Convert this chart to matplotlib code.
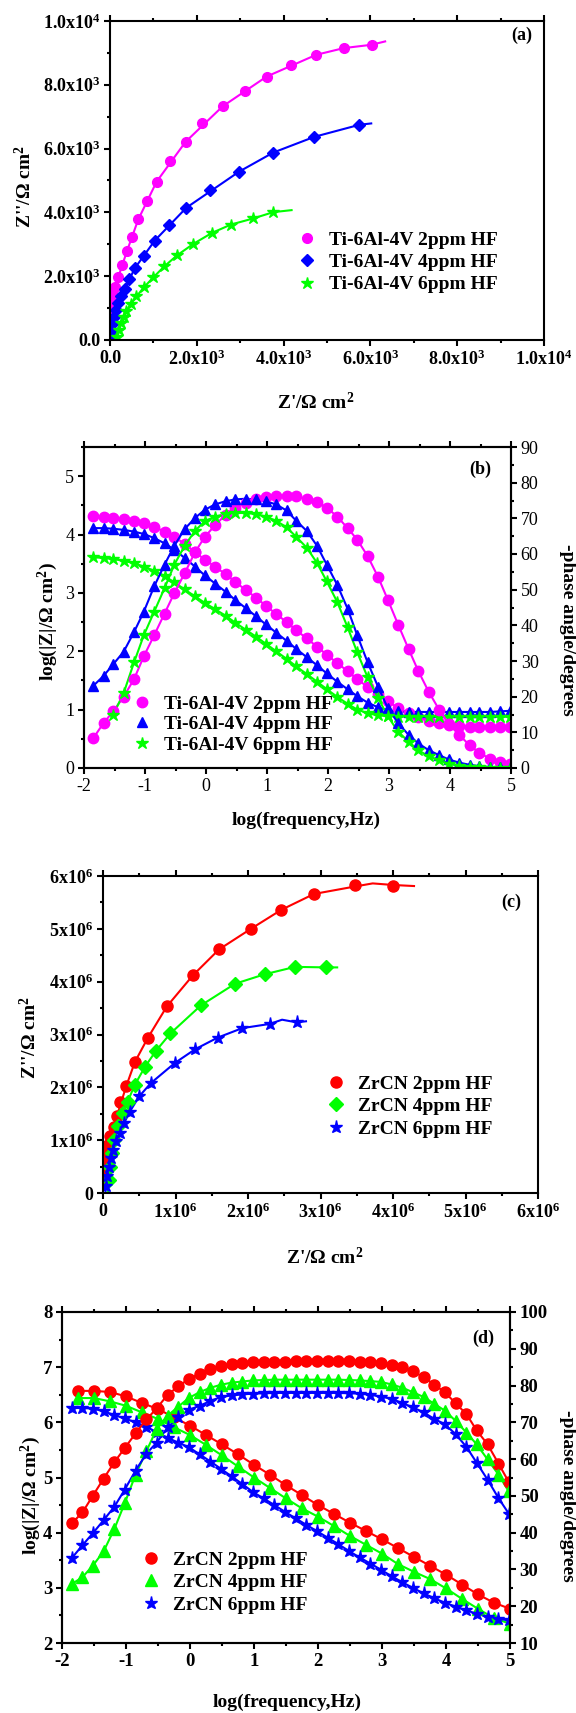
import numpy as np
import matplotlib
matplotlib.use('Agg')
import matplotlib.pyplot as plt
from matplotlib.ticker import MultipleLocator

plt.rcParams['font.family'] = ['Liberation Serif', 'DejaVu Serif']
plt.rcParams['font.weight'] = 'bold'
plt.rcParams['axes.labelweight'] = 'bold'
plt.rcParams['mathtext.fontset'] = 'custom'
plt.rcParams['mathtext.rm'] = 'Liberation Serif:bold'
plt.rcParams['mathtext.it'] = 'Liberation Serif:italic:bold'
plt.rcParams['mathtext.bf'] = 'Liberation Serif:bold'

MAG = '#ff00ff'
BLU = '#0000ff'
GRN = '#00ff00'
RED = '#ff0000'

# ---------------- (a) Nyquist, Ti-6Al-4V ----------------
a2_x = [6027, 5385, 4751, 4159, 3609, 3111, 2595, 2122, 1741, 1378, 1074, 845, 651, 507, 389, 287, 194, 118, 68, 34, 15]
a2_y = [9255, 9150, 8940, 8625, 8258, 7817, 7324, 6800, 6212, 5603, 4963, 4355, 3778, 3232, 2781, 2361, 1983, 1658, 1417, 1154, 1000]
a2_fit_x = [0, 15, 68, 194, 389, 651, 1074, 1741, 2595, 3609, 4751, 5385, 6027, 6340]
a2_fit_y = [900, 1000, 1417, 1983, 2781, 3778, 4963, 6212, 7324, 8258, 8940, 9150, 9255, 9360]

a4_x = [5748, 4708, 3762, 2975, 2299, 1758, 1352, 1031, 786, 575, 448, 338, 254, 186, 135, 93, 68, 42, 17]
a4_y = [6747, 6369, 5876, 5278, 4690, 4145, 3599, 3116, 2644, 2256, 1910, 1605, 1364, 1154, 944, 735, 525, 262, 52]
a4_fit_x = [10, 42, 93, 186, 338, 575, 1031, 1758, 2975, 3762, 4708, 5748, 6019]
a4_fit_y = [0, 262, 735, 1154, 1605, 2256, 3116, 4145, 5278, 5876, 6369, 6747, 6789]

a6_x = [3762, 3297, 2790, 2350, 1919, 1547, 1251, 997, 778, 609, 473, 380, 313, 254, 211, 169]
a6_y = [4008, 3809, 3620, 3358, 3012, 2655, 2308, 1962, 1647, 1364, 1123, 913, 735, 525, 315, 105]
a6_fit_x = [150, 211, 254, 313, 380, 473, 609, 778, 997, 1251, 1547, 1919, 2350, 2790, 3297, 3762, 4184]
a6_fit_y = [0, 315, 525, 735, 913, 1123, 1364, 1647, 1962, 2308, 2655, 3012, 3358, 3620, 3809, 4008, 4071]

a_ticks = [0, 2000, 4000, 6000, 8000, 10000]
a_labels = ['0.0', '2.0x10$^{3}$', '4.0x10$^{3}$', '6.0x10$^{3}$', '8.0x10$^{3}$', '1.0x10$^{4}$']

# ---------------- (b) Bode, Ti-6Al-4V ----------------
b_f = [-1.85, -1.68, -1.52, -1.35, -1.18, -1.02, -0.85, -0.68, -0.52, -0.35, -0.18, -0.02,
       0.15, 0.32, 0.48, 0.65, 0.82, 0.98, 1.15, 1.32, 1.48, 1.65, 1.82, 1.98,
       2.15, 2.32, 2.48, 2.65, 2.82, 2.98, 3.15, 3.32, 3.48, 3.65, 3.82, 3.98,
       4.15, 4.32, 4.48, 4.65, 4.82, 4.98]
b2_z = [4.31, 4.30, 4.28, 4.26, 4.23, 4.19, 4.13, 4.05, 3.96, 3.84, 3.70, 3.57,
        3.45, 3.32, 3.19, 3.05, 2.92, 2.78, 2.64, 2.50, 2.36, 2.22, 2.08, 1.94,
        1.80, 1.66, 1.52, 1.39, 1.26, 1.14, 1.03, 0.94, 0.87, 0.81, 0.77, 0.74,
        0.72, 0.71, 0.70, 0.70, 0.70, 0.70]
b2_ph = [8.3, 12.6, 15.9, 20.0, 24.9, 31.3, 37.2, 43.3, 49.0, 54.6, 60.5, 64.8,
         68.1, 71.0, 73.0, 74.4, 75.5, 76.0, 76.2, 76.4, 76.2, 75.5, 74.6, 73.0,
         70.5, 67.3, 64.0, 59.4, 53.6, 47.2, 40.2, 33.4, 27.2, 21.4, 16.4, 12.3,
         9.3, 6.4, 4.3, 2.6, 1.7, 1.2]
b4_z = [4.11, 4.11, 4.10, 4.08, 4.05, 4.01, 3.94, 3.85, 3.74, 3.60, 3.45, 3.30,
        3.16, 3.02, 2.88, 2.74, 2.60, 2.46, 2.32, 2.18, 2.04, 1.90, 1.76, 1.62,
        1.48, 1.35, 1.23, 1.12, 1.04, 0.99, 0.97, 0.96, 0.96, 0.96, 0.96, 0.96,
        0.96, 0.96, 0.96, 0.96, 0.97, 0.98]
b4_ph = [23.0, 25.8, 29.1, 32.6, 38.1, 43.8, 50.9, 57.0, 62.3, 67.0, 70.1, 72.4,
         73.9, 74.8, 75.3, 75.5, 75.3, 74.8, 73.9, 72.2, 69.3, 66.5, 62.3, 57.0,
         51.4, 44.7, 37.2, 29.6, 22.8, 16.8, 12.6, 9.3, 6.9, 5.0, 3.6, 2.4,
         1.5, 0.9, 0.5, 0.3, 0.2, 0.1]
b6_z = [3.61, 3.60, 3.58, 3.55, 3.51, 3.45, 3.38, 3.29, 3.18, 3.06, 2.94, 2.83,
        2.72, 2.61, 2.49, 2.37, 2.25, 2.13, 2.00, 1.87, 1.74, 1.61, 1.48, 1.35,
        1.22, 1.10, 1.00, 0.94, 0.90, 0.89, 0.88, 0.88, 0.88, 0.88, 0.88, 0.88,
        0.88, 0.88, 0.88, 0.88, 0.88, 0.88]
b6_ph = [np.nan, np.nan, 15.0, 21.0, 29.6, 37.2, 43.8, 50.4, 57.0, 62.3, 66.5, 69.2,
         70.5, 71.2, 71.5, 71.5, 71.2, 70.5, 69.3, 67.5, 64.8, 61.8, 57.5, 52.3,
         46.6, 39.5, 32.4, 25.4, 19.7, 14.5, 10.2, 7.4, 5.0, 3.3, 2.2, 1.2,
         0.7, 0.4, 0.2, 0.1, 0.0, 0.0]

# ---------------- (c) Nyquist, ZrCN (units of 1e6) ----------------
c2_x = [4.00, 3.47, 2.91, 2.46, 2.04, 1.60, 1.24, 0.88, 0.62, 0.44, 0.32, 0.24, 0.19, 0.15, 0.10, 0.066, 0.04, 0.02, 0.01, 0.005]
c2_y = [5.82, 5.83, 5.66, 5.36, 5.00, 4.61, 4.12, 3.53, 2.94, 2.48, 2.02, 1.73, 1.45, 1.25, 1.07, 0.91, 0.76, 0.60, 0.44, 0.25]
c2_fit_x = [0.003, 0.005, 0.02, 0.04, 0.10, 0.19, 0.32, 0.44, 0.62, 0.88, 1.24, 1.60, 2.04, 2.46, 2.91, 3.47, 3.72, 4.00, 4.29]
c2_fit_y = [0.10, 0.25, 0.60, 0.76, 1.07, 1.45, 2.02, 2.48, 2.94, 3.53, 4.12, 4.61, 5.00, 5.36, 5.66, 5.80, 5.86, 5.83, 5.81]

c4_x = [3.08, 2.65, 2.23, 1.82, 1.35, 0.93, 0.73, 0.58, 0.44, 0.34, 0.27, 0.20, 0.15, 0.12, 0.09, 0.076]
c4_y = [4.27, 4.28, 4.14, 3.96, 3.55, 3.02, 2.69, 2.39, 2.05, 1.73, 1.51, 1.26, 1.01, 0.76, 0.50, 0.25]
c4_fit_x = [0.07, 0.076, 0.09, 0.12, 0.15, 0.20, 0.27, 0.34, 0.44, 0.58, 0.73, 0.93, 1.35, 1.82, 2.23, 2.65, 3.08, 3.23]
c4_fit_y = [0.0, 0.25, 0.50, 0.76, 1.01, 1.26, 1.51, 1.73, 2.05, 2.39, 2.69, 3.02, 3.55, 3.96, 4.14, 4.28, 4.27, 4.27]

c6_x = [2.67, 2.30, 1.92, 1.58, 1.27, 0.99, 0.66, 0.50, 0.37, 0.29, 0.23, 0.18, 0.14, 0.11, 0.076, 0.056, 0.04]
c6_y = [3.23, 3.20, 3.12, 2.94, 2.72, 2.46, 2.08, 1.83, 1.54, 1.32, 1.13, 0.98, 0.82, 0.66, 0.50, 0.32, 0.13]
c6_fit_x = [0.035, 0.04, 0.056, 0.076, 0.11, 0.14, 0.18, 0.23, 0.29, 0.37, 0.50, 0.66, 0.99, 1.27, 1.58, 1.92, 2.30, 2.47, 2.67, 2.80]
c6_fit_y = [0.0, 0.13, 0.32, 0.50, 0.66, 0.82, 0.98, 1.13, 1.32, 1.54, 1.83, 2.08, 2.46, 2.72, 2.94, 3.12, 3.20, 3.28, 3.23, 3.25]

c_ticks = [0, 1, 2, 3, 4, 5, 6]
c_labels = ['0', '1x10$^{6}$', '2x10$^{6}$', '3x10$^{6}$', '4x10$^{6}$', '5x10$^{6}$', '6x10$^{6}$']

# ---------------- (d) Bode, ZrCN ----------------
d_f4 = [-1.75, -1.5, -1.25, -1.0, -0.75, -0.5, -0.25, 0.0, 0.25, 0.5, 0.75, 1.0, 1.25, 1.5,
        1.75, 2.0, 2.25, 2.5, 2.75, 3.0, 3.25, 3.5, 3.75, 4.0, 4.25, 4.5, 4.75, 5.0]
d_f6 = b_f
d2_z = [6.57, 6.57, 6.55, 6.47, 6.35, 6.24, 6.09, 5.94, 5.77, 5.60, 5.42, 5.23, 5.05, 4.86,
        4.68, 4.50, 4.34, 4.18, 4.03, 3.88, 3.72, 3.56, 3.40, 3.24, 3.06, 2.88, 2.73, 2.62]
d4_z = [6.44, 6.44, 6.38, 6.30, 6.18, 6.06, 5.91, 5.77, 5.59, 5.40, 5.20, 5.00, 4.81, 4.62,
        4.44, 4.29, 4.12, 3.94, 3.78, 3.62, 3.43, 3.29, 3.16, 2.99, 2.80, 2.62, 2.45, 2.35]
d6_z = [6.26, 6.26, 6.25, 6.20, 6.13, 6.07, 6.00, 5.92, 5.82, 5.72, 5.63, 5.55,
        5.42, 5.29, 5.16, 5.02, 4.88, 4.74, 4.62, 4.50, 4.38, 4.26, 4.14, 4.03,
        3.91, 3.79, 3.67, 3.55, 3.44, 3.33, 3.21, 3.10, 3.00, 2.90, 2.81, 2.73,
        2.66, 2.59, 2.53, 2.48, 2.44, 2.41]
d2_ph = [42.5, 45.5, 50.0, 54.7, 59.2, 63.0, 67.0, 70.8, 73.8, 77.5, 79.8, 81.8,
         83.2, 84.6, 85.4, 85.8, 86.0, 86.3, 86.4, 86.5, 86.5, 86.6, 86.6, 86.7,
         86.7, 86.6, 86.6, 86.5, 86.3, 86.1, 85.7, 85.0, 83.9, 82.3, 80.2, 78.2,
         75.2, 72.2, 67.8, 64.0, 58.8, 53.8]
d4_ph = [26.0, 27.9, 31.0, 34.9, 41.1, 48.0, 55.8, 62.2, 68.2, 71.8, 74.3, 76.6,
         78.2, 79.4, 80.2, 80.8, 81.1, 81.4, 81.5, 81.6, 81.6, 81.6, 81.6, 81.6,
         81.6, 81.6, 81.5, 81.4, 81.2, 81.0, 80.3, 79.4, 78.2, 76.9, 75.0, 73.2,
         70.4, 67.2, 64.0, 59.9, 55.8, 51.2]
d6_ph = [33.0, 36.6, 39.8, 43.4, 47.1, 51.7, 56.9, 61.5, 64.5, 68.6, 71.4, 73.4,
         74.5, 75.8, 76.9, 77.3, 77.6, 77.8, 77.9, 78.0, 78.0, 78.0, 78.0, 78.0,
         78.0, 78.0, 77.9, 77.8, 77.5, 77.0, 76.4, 75.2, 74.1, 72.7, 70.9, 69.5,
         66.8, 63.3, 59.0, 54.4, 49.4, 45.2]

W, H = 576.0, 1713.0


def axes_px(fig, left, top, right, bottom):
    return fig.add_axes([left / W, 1 - bottom / H, (right - left) / W, (bottom - top) / H])


def style(ax, right=False):
    for s in ax.spines.values():
        s.set_linewidth(1.5)
    ax.tick_params(which='both', direction='out', width=1.5, top=True, right=right)
    ax.tick_params(which='major', length=4.5, pad=2.5)
    ax.tick_params(which='minor', length=2.5)


fig = plt.figure(figsize=(W / 100, H / 100), dpi=100)

# ---- (a)
ax = axes_px(fig, 110, 21, 544, 340)
ax.plot(a2_fit_x, a2_fit_y, color=MAG, lw=1.5)
ax.plot(a4_fit_x, a4_fit_y, color=BLU, lw=1.5)
ax.plot(a6_fit_x, a6_fit_y, color=GRN, lw=1.5)
ax.plot(a2_x, a2_y, 'o', color=MAG, ms=7, ls='none', label='Ti-6Al-4V 2ppm HF')
ax.plot(a4_x, a4_y, 'D', color=BLU, ms=6.5, ls='none', label='Ti-6Al-4V 4ppm HF')
ax.plot(a6_x, a6_y, '*', color=GRN, ms=9, ls='none', label='Ti-6Al-4V 6ppm HF')
ax.set_xlim(0, 10000)
ax.set_ylim(0, 10000)
ax.set_xticks(a_ticks, labels=a_labels, fontsize=13, fontweight='bold')
ax.set_yticks(a_ticks, labels=a_labels, fontsize=13, fontweight='bold')
ax.xaxis.set_minor_locator(MultipleLocator(1000))
ax.yaxis.set_minor_locator(MultipleLocator(1000))
style(ax)
ax.set_xlabel("Z'/\u03a9 cm$^{2}$", fontsize=14, fontweight='bold', va='center')
ax.xaxis.set_label_coords(0.475, -0.197)
ax.set_ylabel("Z''/\u03a9 cm$^{2}$", fontsize=14, fontweight='bold', va='center')
ax.yaxis.set_label_coords(-0.198, 0.48)
ax.text(0.949, 0.956, '(a)', transform=ax.transAxes, ha='center', va='center', fontsize=13, fontweight='bold')
ax.legend(loc='upper left', bbox_to_anchor=(0.431, 0.342), frameon=False, fontsize=14,
          handlelength=1.0, handletextpad=0.65, labelspacing=0.25, borderaxespad=0, borderpad=0)

# ---- (b)
ax = axes_px(fig, 84, 447, 511, 768)
ax2 = ax.twinx()
ax.plot(b_f, b2_z, color=MAG, lw=1.5)
ax.plot(b_f, b4_z, color=BLU, lw=1.5)
ax.plot(b_f, b6_z, color=GRN, lw=1.5)
ax2.plot(b_f, b2_ph, color=MAG, lw=1.5)
ax2.plot(b_f, b4_ph, color=BLU, lw=1.5)
ax2.plot(b_f, b6_ph, color=GRN, lw=1.5)
ax.plot(b_f, b2_z, 'o', color=MAG, ms=7.5, ls='none', label='Ti-6Al-4V 2ppm HF')
ax.plot(b_f, b4_z, '^', color=BLU, ms=7.5, ls='none', label='Ti-6Al-4V 4ppm HF')
ax.plot(b_f, b6_z, '*', color=GRN, ms=9, ls='none', label='Ti-6Al-4V 6ppm HF')
ax2.plot(b_f, b2_ph, 'o', color=MAG, ms=7.5, ls='none')
ax2.plot(b_f, b4_ph, '^', color=BLU, ms=7.5, ls='none')
ax2.plot(b_f, b6_ph, '*', color=GRN, ms=9, ls='none')
ax.set_xlim(-2, 5)
ax.set_ylim(0, 5.5)
ax2.set_ylim(0, 90)
ax.set_xticks(range(-2, 6), labels=[str(v) for v in range(-2, 6)], fontsize=13, fontweight='normal')
ax.set_yticks(range(0, 6), labels=[str(v) for v in range(0, 6)], fontsize=13, fontweight='normal')
ax2.set_yticks(range(0, 91, 10), labels=[str(v) for v in range(0, 91, 10)], fontsize=13, fontweight='normal')
ax.xaxis.set_minor_locator(MultipleLocator(0.5))
ax.yaxis.set_minor_locator(MultipleLocator(0.5))
ax2.yaxis.set_minor_locator(MultipleLocator(5))
style(ax)
style(ax2, right=True)
ax.set_xlabel('log(frequency,Hz)', fontsize=14, fontweight='bold', va='center')
ax.xaxis.set_label_coords(0.52, -0.162)
ax.set_ylabel('log(|Z|/\u03a9 cm$^{2}$)', fontsize=14, fontweight='bold', va='center')
ax.yaxis.set_label_coords(-0.084, 0.455)
ax2.set_ylabel('-phase angle/degrees', fontsize=14, fontweight='bold', rotation=270, va='center')
ax2.yaxis.set_label_coords(1.133, 0.43)
ax.text(0.927, 0.931, '(b)', transform=ax.transAxes, ha='center', va='center', fontsize=13, fontweight='bold')
ax.legend(loc='upper left', bbox_to_anchor=(0.112, 0.227), frameon=False, fontsize=14,
          handlelength=1.0, handletextpad=0.65, labelspacing=0.15, borderaxespad=0, borderpad=0)

# ---- (c)
ax = axes_px(fig, 103, 876, 538, 1193)
ax.plot(c2_fit_x, c2_fit_y, color=RED, lw=1.5)
ax.plot(c4_fit_x, c4_fit_y, color=GRN, lw=1.5)
ax.plot(c6_fit_x, c6_fit_y, color=BLU, lw=1.5)
ax.plot(c2_x, c2_y, 'o', color=RED, ms=8, ls='none', label='ZrCN 2ppm HF')
ax.plot(c4_x, c4_y, 'D', color=GRN, ms=7, ls='none', label='ZrCN 4ppm HF')
ax.plot(c6_x, c6_y, '*', color=BLU, ms=9.5, ls='none', label='ZrCN 6ppm HF')
ax.set_xlim(0, 6)
ax.set_ylim(0, 6)
ax.set_xticks(c_ticks, labels=c_labels, fontsize=13, fontweight='bold')
ax.set_yticks(c_ticks, labels=c_labels, fontsize=13, fontweight='bold')
ax.xaxis.set_minor_locator(MultipleLocator(0.5))
ax.yaxis.set_minor_locator(MultipleLocator(0.5))
style(ax)
ax.set_xlabel("Z'/\u03a9 cm$^{2}$", fontsize=14, fontweight='bold', va='center')
ax.xaxis.set_label_coords(0.51, -0.202)
ax.set_ylabel("Z''/\u03a9 cm$^{2}$", fontsize=14, fontweight='bold', va='center')
ax.yaxis.set_label_coords(-0.17, 0.49)
ax.text(0.938, 0.918, '(c)', transform=ax.transAxes, ha='center', va='center', fontsize=13, fontweight='bold')
ax.legend(loc='upper left', bbox_to_anchor=(0.513, 0.372), frameon=False, fontsize=14,
          handlelength=1.0, handletextpad=0.65, labelspacing=0.25, borderaxespad=0, borderpad=0)

# ---- (d)
ax = axes_px(fig, 62, 1312, 510, 1643)
ax2 = ax.twinx()
ax.plot(d_f4, d2_z, color=RED, lw=1.5)
ax.plot(d_f4, d4_z, color=GRN, lw=1.5)
ax.plot(d_f6, d6_z, color=BLU, lw=1.5)
ax2.plot(d_f6, d2_ph, color=RED, lw=1.5)
ax2.plot(d_f6, d4_ph, color=GRN, lw=1.5)
ax2.plot(d_f6, d6_ph, color=BLU, lw=1.5)
ax.plot(d_f4, d2_z, 'o', color=RED, ms=8, ls='none', label='ZrCN 2ppm HF')
ax.plot(d_f4, d4_z, '^', color=GRN, ms=8, ls='none', label='ZrCN 4ppm HF')
ax.plot(d_f6, d6_z, '*', color=BLU, ms=9.5, ls='none', label='ZrCN 6ppm HF')
ax2.plot(d_f6, d2_ph, 'o', color=RED, ms=8, ls='none')
ax2.plot(d_f6, d4_ph, '^', color=GRN, ms=8, ls='none')
ax2.plot(d_f6, d6_ph, '*', color=BLU, ms=9.5, ls='none')
ax.set_xlim(-2, 5)
ax.set_ylim(2, 8)
ax2.set_ylim(10, 100)
ax.set_xticks(range(-2, 6), labels=[str(v) for v in range(-2, 6)], fontsize=13.5, fontweight='bold')
ax.set_yticks(range(2, 9), labels=[str(v) for v in range(2, 9)], fontsize=13.5, fontweight='bold')
ax2.set_yticks(range(10, 101, 10), labels=[str(v) for v in range(10, 101, 10)], fontsize=13.5, fontweight='bold')
ax.xaxis.set_minor_locator(MultipleLocator(0.5))
ax.yaxis.set_minor_locator(MultipleLocator(0.5))
ax2.yaxis.set_minor_locator(MultipleLocator(5))
style(ax)
style(ax2, right=True)
ax.set_xlabel('log(frequency,Hz)', fontsize=14, fontweight='bold', va='center')
ax.xaxis.set_label_coords(0.502, -0.178)
ax.set_ylabel('log(|Z|/\u03a9 cm$^{2}$)', fontsize=14, fontweight='bold', va='center')
ax.yaxis.set_label_coords(-0.069, 0.447)
ax2.set_ylabel('-phase angle/degrees', fontsize=14, fontweight='bold', rotation=270, va='center')
ax2.yaxis.set_label_coords(1.129, 0.444)
ax.text(0.94, 0.921, '(d)', transform=ax.transAxes, ha='center', va='center', fontsize=13, fontweight='bold')
ax.legend(loc='upper left', bbox_to_anchor=(0.176, 0.278), frameon=False, fontsize=14,
          handlelength=1.0, handletextpad=0.65, labelspacing=0.25, borderaxespad=0, borderpad=0)

fig.savefig('out.png', dpi=100)
